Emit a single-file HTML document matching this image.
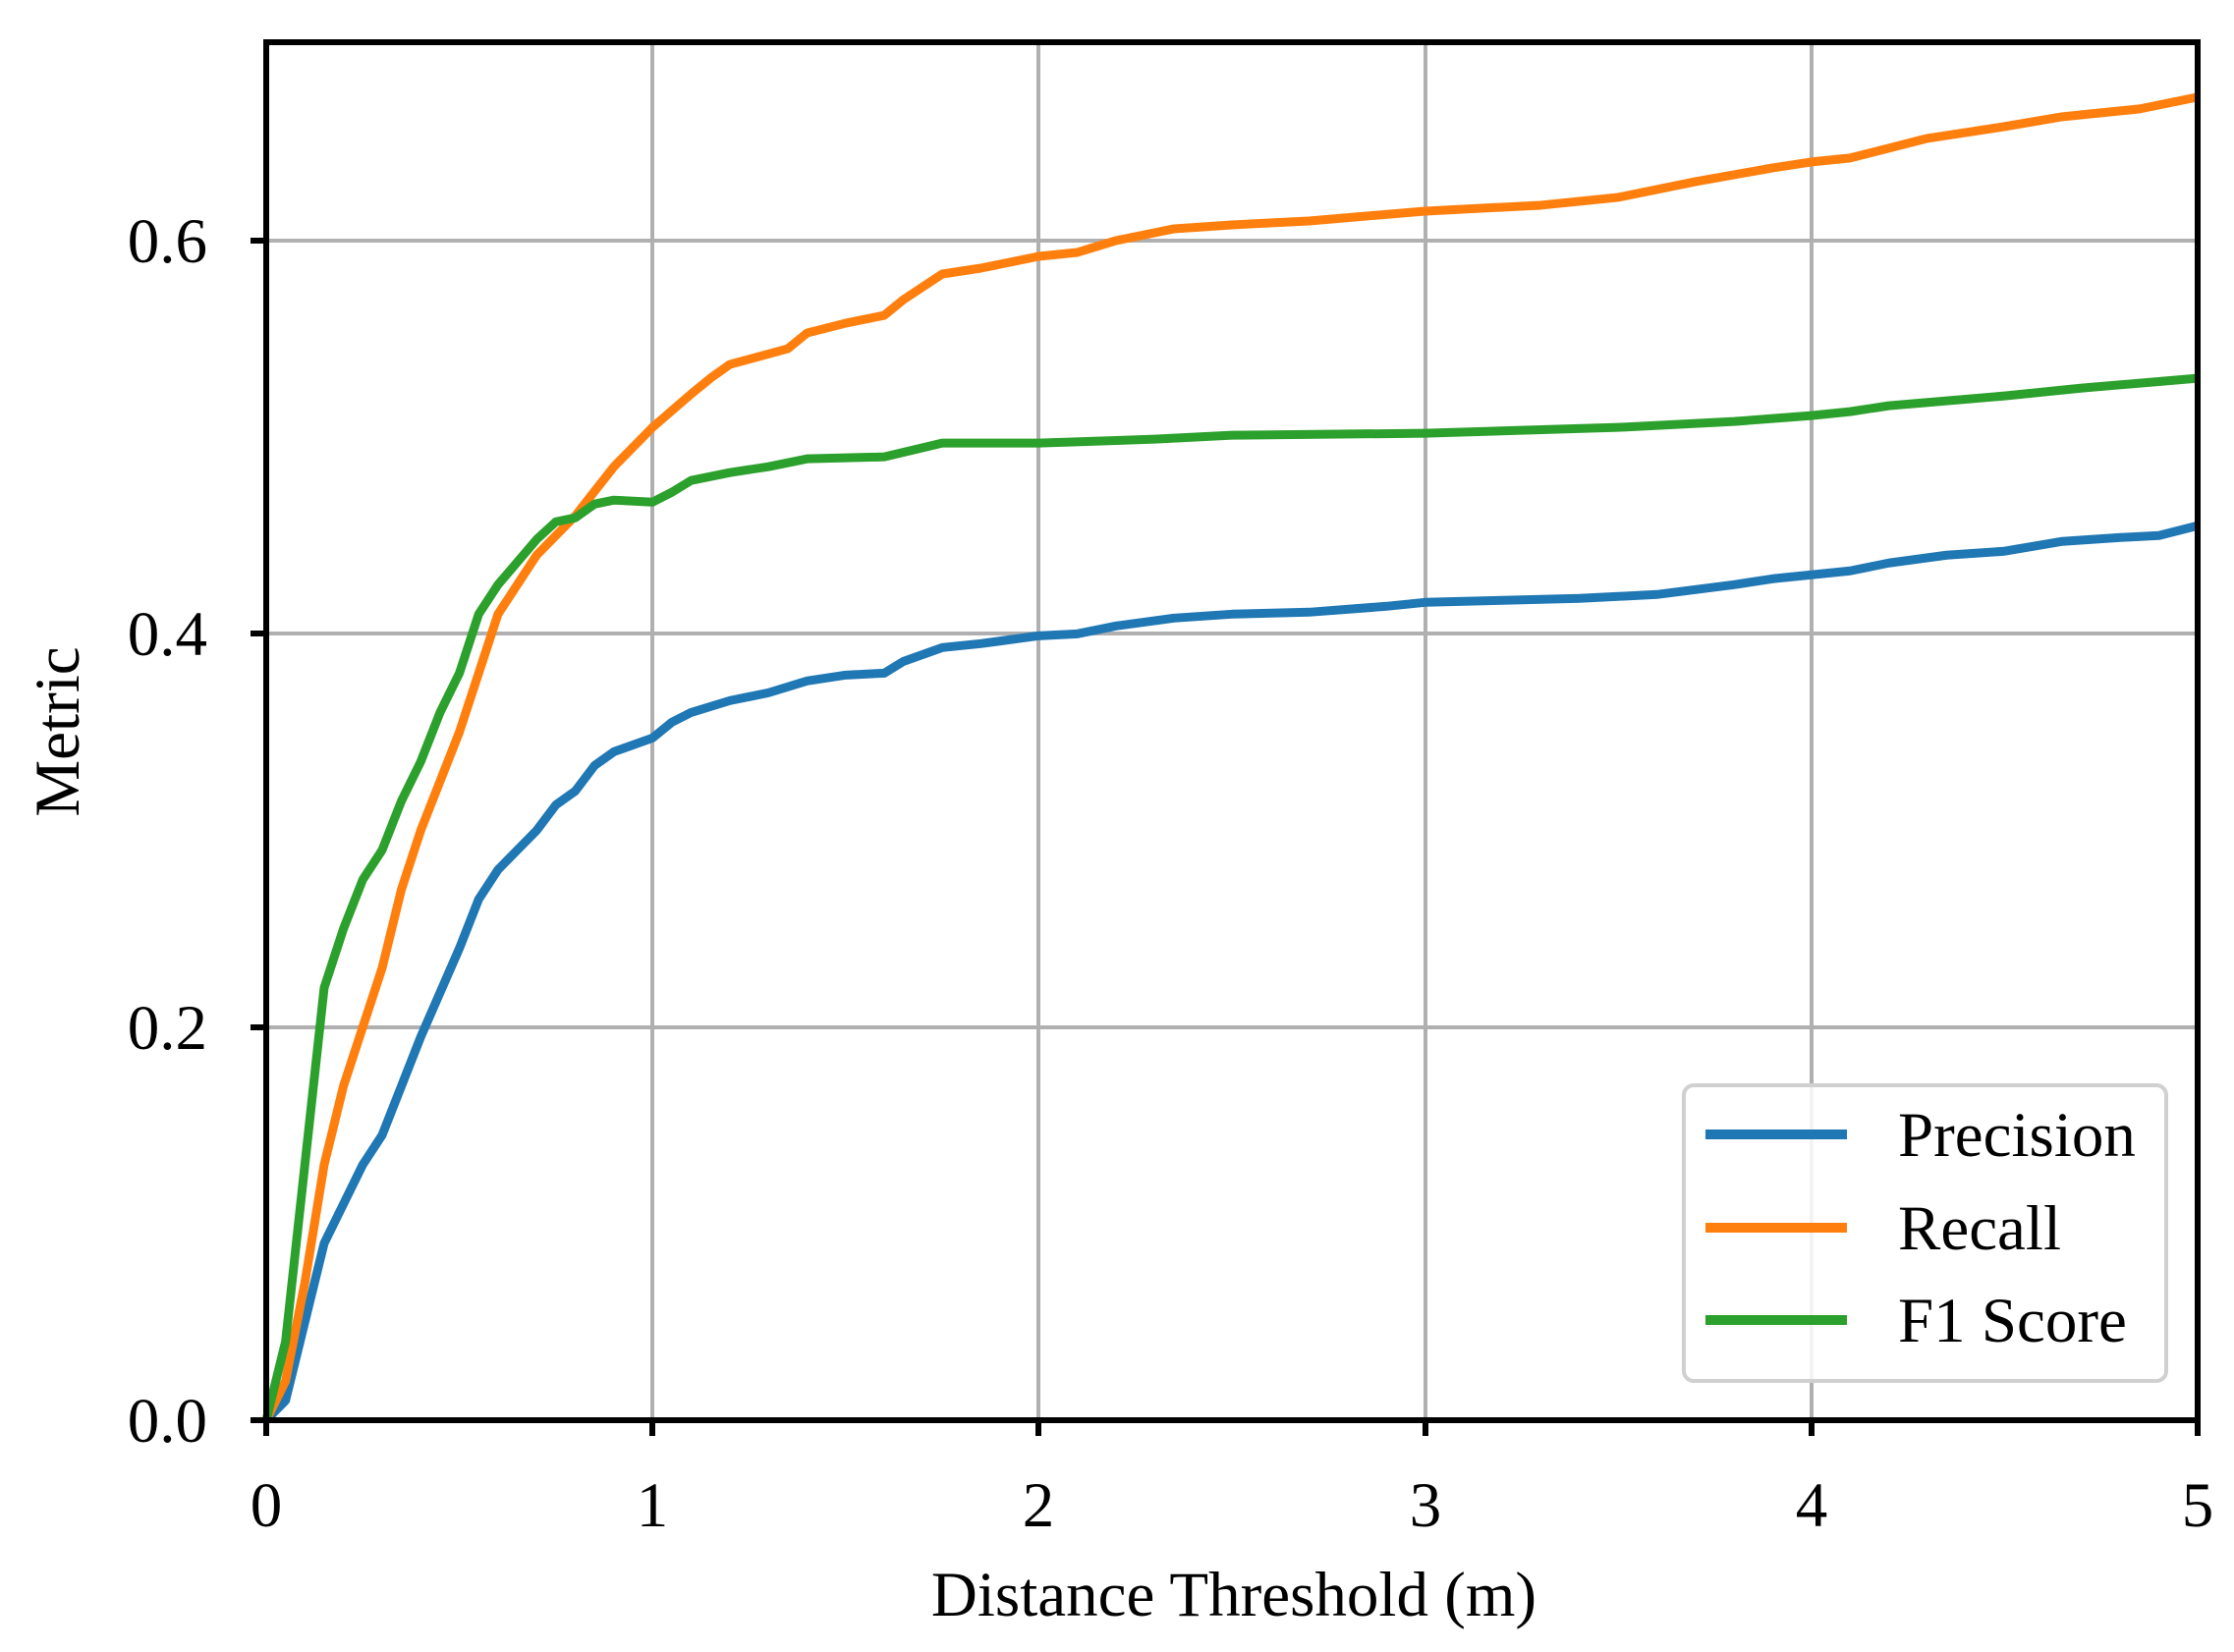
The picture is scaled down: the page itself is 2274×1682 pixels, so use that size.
<!DOCTYPE html>
<html><head><meta charset="utf-8"><style>html,body{margin:0;padding:0;background:#fff;}svg{display:block;}</style></head>
<body>
<svg width="2274" height="1682" viewBox="0 0 2274 1682" xmlns="http://www.w3.org/2000/svg" font-family="Liberation Serif, serif">
<rect width="2274" height="1682" fill="#fff"/>
<g stroke="#b0b0b0" stroke-width="4">
<line x1="664" y1="43" x2="664" y2="1446"/>
<line x1="1057" y1="43" x2="1057" y2="1446"/>
<line x1="1451" y1="43" x2="1451" y2="1446"/>
<line x1="1844" y1="43" x2="1844" y2="1446"/>
<line x1="271" y1="1046" x2="2237" y2="1046"/>
<line x1="271" y1="645" x2="2237" y2="645"/>
<line x1="271" y1="245" x2="2237" y2="245"/>
</g>
<g transform="translate(271,1446) scale(393.2,-2001.7)" fill="none" stroke-width="9" stroke-linejoin="round" stroke-linecap="butt">
<polyline vector-effect="non-scaling-stroke" stroke="#1f77b4" points="0,0 0.05,0.01 0.1,0.05 0.15,0.09 0.2,0.11 0.25,0.13 0.3,0.145 0.35,0.17 0.4,0.195 0.5,0.24 0.55,0.265 0.6,0.28 0.7,0.3 0.75,0.313 0.8,0.32 0.85,0.333 0.9,0.34 1.0,0.347 1.05,0.355 1.1,0.36 1.2,0.366 1.3,0.37 1.4,0.376 1.5,0.379 1.6,0.38 1.65,0.386 1.75,0.393 1.85,0.395 2.0,0.399 2.1,0.4 2.2,0.404 2.35,0.408 2.5,0.41 2.7,0.411 2.9,0.414 3.0,0.416 3.2,0.417 3.4,0.418 3.6,0.42 3.8,0.425 3.9,0.428 4.0,0.43 4.1,0.432 4.2,0.436 4.35,0.44 4.5,0.442 4.65,0.447 4.8,0.449 4.9,0.45 5.0,0.455"/>
<polyline vector-effect="non-scaling-stroke" stroke="#ff7f0e" points="0,0 0.05,0.02 0.1,0.07 0.15,0.13 0.2,0.17 0.25,0.2 0.3,0.23 0.35,0.27 0.4,0.3 0.5,0.35 0.6,0.41 0.7,0.44 0.8,0.46 0.9,0.485 1.0,0.505 1.1,0.522 1.15,0.53 1.2,0.537 1.35,0.545 1.4,0.553 1.5,0.558 1.6,0.562 1.65,0.57 1.75,0.583 1.85,0.586 2.0,0.592 2.1,0.594 2.2,0.6 2.35,0.606 2.5,0.608 2.7,0.61 3.0,0.615 3.3,0.618 3.5,0.622 3.7,0.63 3.9,0.637 4.0,0.64 4.1,0.642 4.3,0.652 4.5,0.658 4.65,0.663 4.85,0.667 5.0,0.673"/>
<polyline vector-effect="non-scaling-stroke" stroke="#2ca02c" points="0,0 0.05,0.04 0.1,0.13 0.15,0.22 0.2,0.25 0.25,0.275 0.3,0.29 0.35,0.315 0.4,0.335 0.45,0.36 0.5,0.38 0.55,0.41 0.6,0.425 0.7,0.448 0.75,0.457 0.8,0.459 0.85,0.466 0.9,0.468 1.0,0.467 1.05,0.472 1.1,0.478 1.2,0.482 1.3,0.485 1.4,0.489 1.6,0.49 1.75,0.497 2.0,0.497 2.3,0.499 2.5,0.501 3.0,0.502 3.5,0.505 3.8,0.508 4.0,0.511 4.1,0.513 4.2,0.516 4.5,0.521 4.7,0.525 5.0,0.53"/>
</g>
<rect x="271" y="43" width="1966" height="1403" fill="none" stroke="#000" stroke-width="6"/>
<g stroke="#000" stroke-width="6">
<line x1="271" y1="1446" x2="271" y2="1462"/><line x1="664" y1="1446" x2="664" y2="1462"/><line x1="1057" y1="1446" x2="1057" y2="1462"/><line x1="1451" y1="1446" x2="1451" y2="1462"/><line x1="1844" y1="1446" x2="1844" y2="1462"/><line x1="2237" y1="1446" x2="2237" y2="1462"/>
<line x1="255" y1="1446" x2="271" y2="1446"/><line x1="255" y1="1046" x2="271" y2="1046"/><line x1="255" y1="645" x2="271" y2="645"/><line x1="255" y1="245" x2="271" y2="245"/>
</g>
<g font-size="65" fill="#000" text-anchor="middle">
<text x="271" y="1554">0</text><text x="664" y="1554">1</text><text x="1057" y="1554">2</text><text x="1451" y="1554">3</text><text x="1844" y="1554">4</text><text x="2237" y="1554">5</text>
</g>
<g font-size="65" fill="#000" text-anchor="end">
<text x="211" y="1468">0.0</text><text x="211" y="1068">0.2</text><text x="211" y="667">0.4</text><text x="211" y="267">0.6</text>
</g>
<text x="1256" y="1645" font-size="65" text-anchor="middle">Distance Threshold (m)</text>
<text transform="translate(80,745) rotate(-90)" font-size="65" text-anchor="middle">Metric</text>
<rect x="1714" y="1105" width="491" height="301" rx="10" fill="#fff" fill-opacity="0.85" stroke="#d0d0d0" stroke-width="4"/>
<g stroke-width="10">
<line x1="1736" y1="1155" x2="1880" y2="1155" stroke="#1f77b4"/>
<line x1="1736" y1="1250" x2="1880" y2="1250" stroke="#ff7f0e"/>
<line x1="1736" y1="1344" x2="1880" y2="1344" stroke="#2ca02c"/>
</g>
<g font-size="65" fill="#000">
<text x="1932" y="1177">Precision</text>
<text x="1932" y="1272">Recall</text>
<text x="1932" y="1366">F1 Score</text>
</g>
</svg>
</body></html>
